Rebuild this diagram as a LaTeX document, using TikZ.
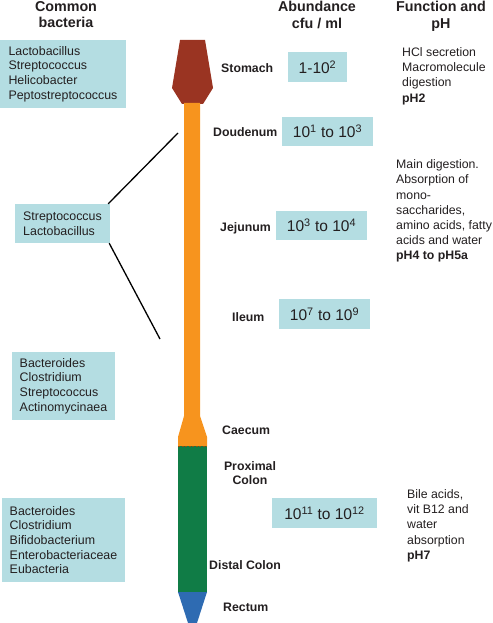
\documentclass[tikz,border=0pt]{standalone}
\usepackage{fontspec}
\setmainfont{Liberation Sans}
\definecolor{boxc}{RGB}{180,221,226}
\definecolor{stomc}{RGB}{154,52,34}
\definecolor{orc}{RGB}{247,148,30}
\definecolor{grc}{RGB}{16,124,70}
\definecolor{blc}{RGB}{46,107,178}
\definecolor{txc}{RGB}{35,31,32}
\begin{document}
\begin{tikzpicture}[x=1pt,y=-1pt,
  box/.style={fill=boxc, inner sep=0pt, align=left, text=txc,
              font=\fontsize{12.4}{14.7}\selectfont},
  abox/.style={fill=boxc, inner sep=0pt, text=txc,
              font=\fontsize{15.5}{18}\selectfont},
  head/.style={inner sep=0pt, align=center, anchor=north, text=txc,
              font=\fontsize{14.3}{16.5}\selectfont\bfseries},
  organ/.style={inner sep=0pt, anchor=base west, text=txc,
              font=\fontsize{12.3}{14}\selectfont\bfseries},
  func/.style={inner sep=0pt, align=left, anchor=north west, text=txc,
              font=\fontsize{12.3}{15.2}\selectfont},
  conn/.style={draw=black, line width=1.3pt}
]
\useasboundingbox (0,0) rectangle (492,623);

% headers
\node[head] (h1) at (66,1) {Common\\bacteria};
\node[head] (h2) at (317,1) {Abundance\\cfu / ml};
\node[head] (h3) at (441,1) {Function and\\pH};

% gut tube
\fill[stomc] (180,40) -- (205,40) -- (213,88) -- (203,104) -- (182,104) -- (172,88) -- cycle;
\fill[orc] (184,103) -- (200,103) -- (200,416) -- (207,437) -- (207,446) -- (178,446) -- (178,437) -- (184,416) -- cycle;
\fill[grc] (178,446) rectangle (207,592);
\fill[blc] (178,592) -- (207,592) -- (197,623) -- (188,623) -- cycle;
\draw[orc!55!black, line width=0.6pt, dash pattern=on 2pt off 1.5pt] (178,446) -- (207,446);

% common bacteria boxes
\node[box, minimum width=126pt, minimum height=68pt] (b1) at (63,74)
  {Lactobacillus\\Streptococcus\\Helicobacter\\Peptostreptococcus};
\node[box, minimum width=95pt, minimum height=39pt] (b2) at (62.5,223.5)
  {Streptococcus\\Lactobacillus};
\node[box, minimum width=103pt, minimum height=68pt] (b3) at (63.5,386)
  {Bacteroides\\Clostridium\\Streptococcus\\Actinomycinaea};
\node[box, minimum width=123pt, minimum height=84pt] (b4) at (63.5,540)
  {Bacteroides\\Clostridium\\Bifidobacterium\\Enterobacteriaceae\\Eubacteria};

% connectors
\coordinate (duo) at (178,133);
\coordinate (ile) at (160,339);
\draw[conn] ([xshift=-2pt]b2.north east) -- (duo);
\draw[conn] ([xshift=-1pt]b2.south east) -- (ile);

% organ labels
\node[organ] (o1) at (221,72.4) {Stomach};
\node[organ] (o2) at (213,136.4) {Doudenum};
\node[organ] (o3) at (220,231.4) {Jejunum};
\node[organ] (o4) at (232,321.4) {Ileum};
\node[organ] (o5) at (222,434.4) {Caecum};
\node[organ, anchor=north, align=center] (o6) at (250,461.6) {Proximal\\Colon};
\node[organ] (o7) at (209,569.4) {Distal Colon};
\node[organ] (o8) at (223,611.4) {Rectum};

% abundance boxes
\node[abox, minimum width=59pt, minimum height=30pt] (a1) at (317.5,67) {1-10\textsuperscript{2}};
\node[abox, minimum width=91pt, minimum height=29pt] (a2) at (327.5,131.5) {10\textsuperscript{1} to 10\textsuperscript{3}};
\node[abox, minimum width=91pt, minimum height=29pt] (a3) at (321.5,225.5) {10\textsuperscript{3} to 10\textsuperscript{4}};
\node[abox, minimum width=91pt, minimum height=30pt] (a4) at (324.5,314) {10\textsuperscript{7} to 10\textsuperscript{9}};
\node[abox, minimum width=105pt, minimum height=30pt] (a5) at (324.5,513) {10\textsuperscript{11} to 10\textsuperscript{12}};

% function text
\node[func] (f1) at (402,47.3) {HCl secretion\\Macromolecule\\digestion\\\textbf{pH2}};
\node[func] (f2) at (396,159.5) {Main digestion.\\Absorption of\\mono-\\saccharides,\\amino acids, fatty\\acids and water\\\textbf{pH4 to pH5a}};
\node[func] (f3) at (407,489.3) {Bile acids,\\vit B12 and\\water\\absorption\\\textbf{pH7}};
\end{tikzpicture}
\end{document}
